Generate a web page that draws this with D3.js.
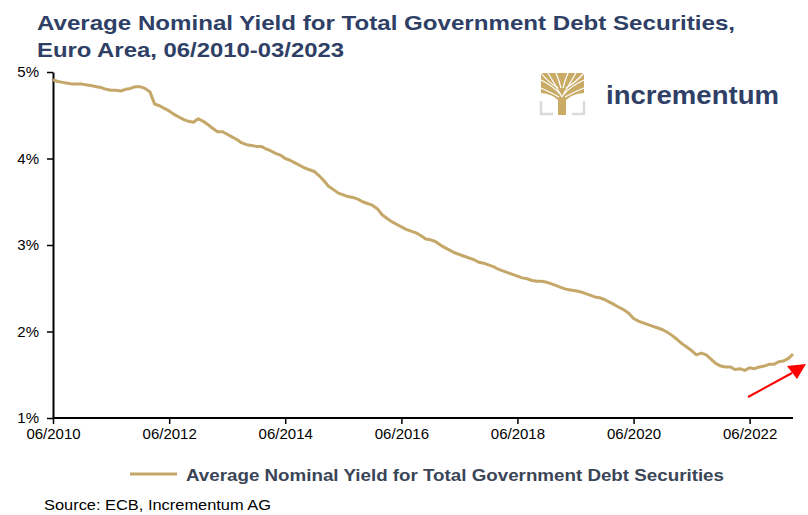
<!DOCTYPE html>
<html>
<head>
<meta charset="utf-8">
<script src="https://cdn.jsdelivr.net/npm/d3@7"></script>
<style>
  body { margin: 0; background: #fff; }
  svg { display: block; font-family: "Liberation Sans", Arial, sans-serif; }
</style>
</head>
<body>
<svg id="chart" width="808" height="515"></svg>
<script>
// data: monthly yield (%), 06/2010 .. 03/2023
const startMonth = "2010-06";
const seriesName = "Average Nominal Yield for Total Government Debt Securities";
const yields = [
  4.91, 4.89, 4.88, 4.87, 4.86, 4.86, 4.86, 4.85, 4.84, 4.83, 4.82, 4.80,
  4.79, 4.79, 4.78, 4.80, 4.81, 4.83, 4.83, 4.81, 4.77, 4.63, 4.61, 4.58,
  4.55, 4.51, 4.48, 4.45, 4.43, 4.42, 4.46, 4.43, 4.39, 4.35, 4.31, 4.31,
  4.28, 4.25, 4.22, 4.18, 4.16, 4.15, 4.14, 4.14, 4.11, 4.09, 4.06, 4.04,
  4.00, 3.98, 3.95, 3.92, 3.89, 3.87, 3.85, 3.80, 3.74, 3.68, 3.64, 3.60,
  3.58, 3.56, 3.55, 3.53, 3.50, 3.48, 3.46, 3.42, 3.35, 3.31, 3.27, 3.24,
  3.21, 3.18, 3.16, 3.14, 3.11, 3.07, 3.06, 3.04, 3.00, 2.97, 2.94, 2.91,
  2.89, 2.87, 2.85, 2.83, 2.80, 2.79, 2.77, 2.75, 2.72, 2.70, 2.68, 2.66,
  2.64, 2.62, 2.61, 2.59, 2.58, 2.58, 2.57, 2.55, 2.53, 2.51, 2.49, 2.48,
  2.47, 2.46, 2.44, 2.42, 2.40, 2.39, 2.37, 2.34, 2.31, 2.28, 2.25, 2.21,
  2.15, 2.12, 2.10, 2.08, 2.06, 2.04, 2.02, 1.99, 1.95, 1.91, 1.86, 1.82,
  1.78, 1.73, 1.75, 1.73, 1.68, 1.63, 1.60, 1.59, 1.59, 1.56, 1.57, 1.55,
  1.58, 1.57, 1.59, 1.60, 1.62, 1.62, 1.65, 1.66, 1.69, 1.74
];
const xTickLabels = ["06/2010", "06/2012", "06/2014", "06/2016", "06/2018", "06/2020", "06/2022"];
const yTicks = [1, 2, 3, 4, 5];

const parseMonth = d3.timeParse("%Y-%m");
const parseTick = d3.timeParse("%m/%Y");
const t0 = parseMonth(startMonth);
const data = yields.map((v, i) => ({ date: d3.timeMonth.offset(t0, i), value: v }));

const gold = "#C5A869";
const navy = "#2F3F66";

const svg = d3.select("#chart");

// scales
const x = d3.scaleTime()
  .domain([data[0].date, data[data.length - 1].date])
  .range([53, 793]);
const y = d3.scaleLinear().domain([1, 5]).range([418, 72]);

// title
const title = svg.append("g").attr("fill", navy).style("font-weight", "bold").style("font-size", "21px");
title.append("text").attr("x", 37).attr("y", 30)
  .attr("textLength", 698).attr("lengthAdjust", "spacingAndGlyphs")
  .text("Average Nominal Yield for Total Government Debt Securities,");
title.append("text").attr("x", 37).attr("y", 57)
  .attr("textLength", 307).attr("lengthAdjust", "spacingAndGlyphs")
  .text("Euro Area, 06/2010-03/2023");

// logo: gold canopy block with white branch gaps, trunk, grey brackets
const logo = svg.append("g");
logo.append("path")
  .attr("d", "M541,73 H584 V93 Q572,94 566,100 V115 H558 V100 Q552,94 541,93 Z")
  .attr("fill", "#C9AB66");
const gaps = [
  "M562,97 Q556,86 548,73", "M562,97 Q568,86 576,73",
  "M560,94 Q553,86 541,80", "M564,94 Q571,86 584,80",
  "M561,88 Q559,80 556,73", "M563,88 Q565,80 568,73",
  "M558,88 Q548,82 541,73", "M566,88 Q576,82 584,73",
  "M559,97 Q550,92 541,88", "M565,97 Q574,92 584,88"
];
gaps.forEach(d => {
  logo.append("path").attr("d", d)
    .attr("fill", "none").attr("stroke", "#fff").attr("stroke-width", 1.2);
});
logo.append("path").attr("d", "M541,101 V114 H553 M584,101 V114 H572")
  .attr("fill", "none").attr("stroke", "#DADADA").attr("stroke-width", 2.5);
logo.append("text").attr("x", 606).attr("y", 104)
  .attr("fill", navy).style("font-size", "26px").style("font-weight", "bold")
  .attr("textLength", 173).attr("lengthAdjust", "spacingAndGlyphs")
  .text("incrementum");

// axes
const xAxis = svg.append("g")
  .attr("transform", "translate(0,418)")
  .call(d3.axisBottom(x).tickValues(xTickLabels.map(parseTick))
    .tickFormat(d3.timeFormat("%m/%Y")).tickSize(6).tickSizeOuter(0));
xAxis.select(".domain").attr("d", "M53,0H793").attr("stroke-width", 2);
xAxis.selectAll(".tick line").attr("stroke-width", 1.5);
xAxis.selectAll("text").attr("y", 10).style("font-size", "15px").style("font-family", "Liberation Sans, Arial").attr("fill", "#000");

const yAxis = svg.append("g")
  .attr("transform", "translate(53,0)")
  .call(d3.axisLeft(y).tickValues(yTicks).tickFormat(d => d + "%").tickSize(6).tickSizeOuter(0));
yAxis.select(".domain").attr("stroke-width", 2);
yAxis.selectAll(".tick line").attr("stroke-width", 1.5);
yAxis.selectAll("text").attr("x", -14).style("font-size", "15px").style("font-family", "Liberation Sans, Arial").attr("fill", "#000");

// line
svg.append("path")
  .datum(data)
  .attr("fill", "none")
  .attr("stroke", gold)
  .attr("stroke-width", 3)
  .attr("stroke-linejoin", "round")
  .attr("d", d3.line().x(d => x(d.date)).y(d => y(d.value)));

// red arrow
svg.append("line").attr("x1", 748).attr("y1", 397).attr("x2", 792).attr("y2", 373)
  .attr("stroke", "#FF0000").attr("stroke-width", 2);
svg.append("path").attr("d", "M787,366 L806,364 L797,379 Z").attr("fill", "#FF0000");

// legend
svg.append("line").attr("x1", 130).attr("x2", 177).attr("y1", 474).attr("y2", 474)
  .attr("stroke", gold).attr("stroke-width", 3);
svg.append("text").attr("x", 186).attr("y", 481)
  .attr("fill", "#3A4557").style("font-size", "17px").style("font-weight", "bold")
  .attr("textLength", 538).attr("lengthAdjust", "spacingAndGlyphs")
  .text(seriesName);

// source
svg.append("text").attr("x", 44).attr("y", 510)
  .attr("fill", "#000").style("font-size", "14px")
  .attr("textLength", 227).attr("lengthAdjust", "spacingAndGlyphs")
  .text("Source: ECB, Incrementum AG");
</script>
</body>
</html>
